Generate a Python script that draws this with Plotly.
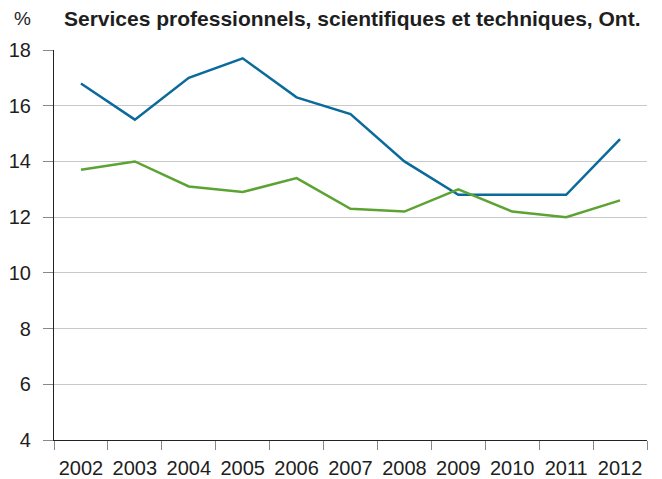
import plotly.graph_objects as go

years = ["2002", "2003", "2004", "2005", "2006", "2007", "2008", "2009", "2010", "2011", "2012"]
blue_vals = [16.8, 15.5, 17.0, 17.7, 16.3, 15.7, 14.0, 12.8, 12.8, 12.8, 14.8]
green_vals = [13.7, 14.0, 13.1, 12.9, 13.4, 12.3, 12.2, 13.0, 12.2, 12.0, 12.6]
y_ticks = [4, 6, 8, 10, 12, 14, 16, 18]

FONT = "Liberation Sans, Arial, sans-serif"
TXT = "#1e1e1e"

fig = go.Figure()
fig.add_trace(go.Scatter(x=years, y=blue_vals, mode="lines",
                         line=dict(color="#0a6a9c", width=2.5), showlegend=False))
fig.add_trace(go.Scatter(x=years, y=green_vals, mode="lines",
                         line=dict(color="#5ca334", width=2.5), showlegend=False))

# page body has an 8px default margin: figure is drawn at (8, 8)
fig.update_layout(
    width=654, height=471,
    margin=dict(l=46, r=15, t=42, b=39, autoexpand=False),
    paper_bgcolor="white", plot_bgcolor="white",
    font=dict(family=FONT, size=20, color=TXT),
    annotations=[
        dict(text="<b>Services professionnels, scientifiques et techniques, Ont.</b>",
             xref="paper", yref="paper", x=0, y=1.0, xanchor="left", yanchor="middle",
             xshift=8, yshift=32, showarrow=False, font=dict(size=21, color=TXT, family=FONT)),
        dict(text="%", xref="paper", yref="paper", x=0, y=1.0, xanchor="left", yanchor="middle",
             xshift=-42, yshift=32, showarrow=False, font=dict(size=19, color=TXT, family=FONT)),
    ],
)
fig.update_xaxes(
    type="category", range=[-0.5, 10.5], tickson="boundaries",
    ticks="outside", ticklen=9, tickcolor="#888", tickwidth=1,
    showline=True, linecolor="#222", linewidth=1.2,
    showgrid=False, tickfont=dict(size=20, family=FONT, color=TXT),
    ticklabelstandoff=10, automargin=False,
)
fig.update_yaxes(
    range=[4, 18], tickvals=y_ticks, ticktext=[str(v) for v in y_ticks],
    ticks="outside", ticklen=10, tickcolor="#888", tickwidth=1,
    showline=True, linecolor="#222", linewidth=1.2,
    showgrid=True, gridcolor="#c8c8c8", gridwidth=1, zeroline=False,
    tickfont=dict(size=20, family=FONT, color=TXT),
    ticklabelstandoff=8, automargin=False,
)

fig.write_html("out.html")
